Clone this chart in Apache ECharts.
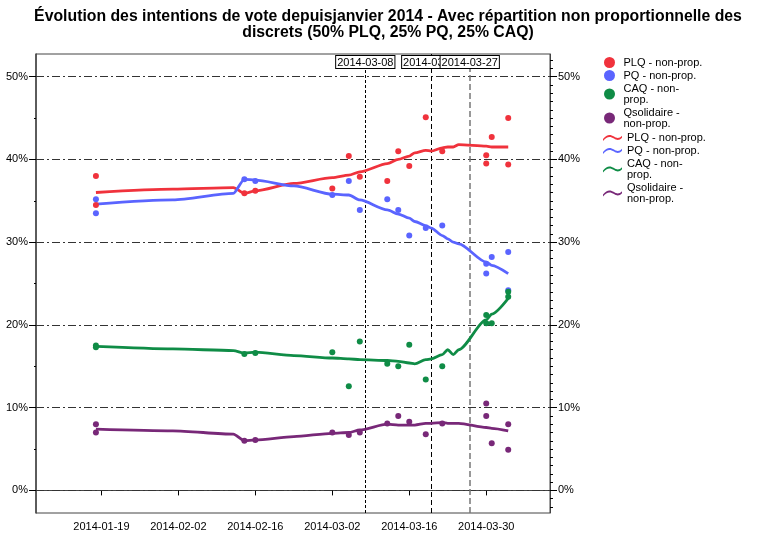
<!DOCTYPE html>
<html>
<head>
<meta charset="utf-8">
<script src="https://cdn.jsdelivr.net/npm/echarts@6/dist/echarts.min.js"></script>
<style>html,body{margin:0;padding:0;background:#fff;}#chart{width:768px;height:540px;}</style>
</head>
<body>
<div id="chart"></div>
<script>
// ---- data ----
const titleText = 'Évolution des intentions de vote depuisjanvier 2014 - Avec répartition non proportionnelle des\ndiscrets (50% PLQ, 25% PQ, 25% CAQ)';
const pollDates = ['2014-01-18','2014-01-18','2014-02-14','2014-02-16','2014-03-02','2014-03-05','2014-03-07','2014-03-12','2014-03-14','2014-03-16','2014-03-19','2014-03-22','2014-03-30','2014-03-30','2014-03-31','2014-04-03','2014-04-03'];
const plqPolls = [38.0,34.5,35.9,36.2,36.5,40.4,37.9,37.4,41.0,39.2,45.1,41.0,40.5,39.5,42.7,45.0,39.4];
const pqPolls  = [35.2,33.5,37.6,37.4,35.7,37.4,33.9,35.2,33.9,30.8,31.7,32.0,27.4,26.2,28.2,28.8,24.2];
const caqPolls = [17.5,17.3,16.5,16.6,16.7,12.6,18.0,15.3,15.0,17.6,13.4,15.0,21.2,20.2,20.2,24.0,23.4];
const qsPolls  = [8.0,7.0,6.0,6.1,7.0,6.7,7.0,8.1,9.0,8.3,6.8,8.1,10.5,9.0,5.7,8.0,4.9];

const fitDates = ['2014-01-18','2014-02-01','2014-02-12','2014-02-14','2014-02-16','2014-02-23','2014-03-02','2014-03-05','2014-03-07','2014-03-12','2014-03-14','2014-03-16','2014-03-17','2014-03-19','2014-03-20','2014-03-22','2014-03-23','2014-03-24','2014-03-25','2014-03-30','2014-03-31','2014-04-03'];
const plqFit = [36.0,36.4,36.6,35.9,36.2,37.1,37.8,38.1,38.5,39.5,40.0,40.4,40.8,41.1,41.0,41.4,41.5,41.5,41.8,41.6,41.5,41.5];
const pqFit  = [34.6,35.1,35.9,37.6,37.5,36.8,35.8,35.7,35.1,33.9,33.4,32.9,32.5,32.0,31.7,30.8,30.4,30.0,29.8,27.6,27.2,26.2];
const caqFit = [17.4,17.1,16.9,16.6,16.7,16.3,16.0,15.9,15.8,15.7,15.6,15.4,15.3,15.8,15.9,16.4,17.0,16.4,17.0,20.6,21.3,23.2];
const qsFit  = [7.4,7.2,6.8,6.0,6.1,6.5,6.9,7.0,7.3,8.0,7.9,7.9,7.9,8.1,8.1,8.2,8.1,8.1,8.1,7.6,7.5,7.2];

const refDates = ['2014-03-08','2014-03-20','2014-03-27'];
const xTickDates = ['2014-01-19','2014-02-02','2014-02-16','2014-03-02','2014-03-16','2014-03-30'];
const yMajorTicks = [0,10,20,30,40,50];
const yLeftMinorTicks = [5,15,25,35,45];
const yRightMinorTicks = [-2,-1,1,2,3,4,5,6,7,8,9,11,12,13,14,15,16,17,18,19,21,22,23,24,25,26,27,28,29,31,32,33,34,35,36,37,38,39,41,42,43,44,45,46,47,48,49,51,52];

const scatterNames = ['PLQ - non-prop.','PQ - non-prop.','CAQ - non-prop.','Qsolidaire - non-prop.'];
const lineNames = ['PLQ - non-prop. (lissage)','PQ - non-prop. (lissage)','CAQ - non-prop. (lissage)','Qsolidaire - non-prop. (lissage)'];
const legendLabels = ['PLQ - non-prop.','PQ - non-prop.','CAQ - non-\nprop.','Qsolidaire -\nnon-prop.'];
const colors = ['#F0323C','#5A64FF','#0F8C46','#782878'];

// ---- helpers ----
const BASE = Date.UTC(2014,0,1);
function toDay(s){const p=s.split('-');return (Date.UTC(+p[0],+p[1]-1,+p[2])-BASE)/86400000;}
function fmtDay(v){const d=new Date(BASE+Math.round(v)*86400000);const m=('0'+(d.getUTCMonth()+1)).slice(-2);const dd=('0'+d.getUTCDate()).slice(-2);return d.getUTCFullYear()+'-'+m+'-'+dd;}
function pairs(dates, vals){return dates.map((d,i)=>[toDay(d), vals[i]]);}

const X_MIN = 6.1, X_MAX = 99.6, Y_MIN = -2.73, Y_MAX = 52.74;
const FONT = 'Liberation Sans';
const labelMap = {};
scatterNames.forEach((n,i)=>labelMap[n]=legendLabels[i]);
lineNames.forEach((n,i)=>labelMap[n]=legendLabels[i]);

const gridDash = {color:'#333', width:1, type:[8,3,2,3]};
const markData = yMajorTicks.map(v=>({yAxis:v, lineStyle:gridDash, label:{show:false}}));
const refStyles = [
  {color:'#000', width:1, type:[3,2]},
  {color:'#000', width:1, type:[5,3]},
  {color:'#777', width:1.5, type:[6,3]}
];
refDates.forEach((d,i)=>{
  markData.push([
    {coord:[toDay(d), Y_MIN], lineStyle:refStyles[i],
     label:{show:true, position:'end', distance:-14, formatter:d, color:'#000', fontSize:11, fontFamily:FONT,
            backgroundColor:'#fff', borderColor:'#000', borderWidth:1, padding:[1,1,0,1]}},
    {coord:[toDay(d), Y_MAX]}
  ]);
});

const pollSets = [plqPolls,pqPolls,caqPolls,qsPolls];
const fitSets = [plqFit,pqFit,caqFit,qsFit];
const series = [];
pollSets.forEach((vals,i)=>{
  const s = {name:scatterNames[i], type:'scatter', symbol:'circle', symbolSize:6,
    itemStyle:{color:colors[i], opacity:1}, data:pairs(pollDates, vals), z:3};
  if(i===0){
    s.markLine = {silent:true, symbol:'none', z:1, animation:false, data:markData};
  }
  series.push(s);
});
fitSets.forEach((vals,i)=>{
  series.push({name:lineNames[i], type:'line', showSymbol:false, smooth:0.25, smoothMonotone:'x',
    lineStyle:{color:colors[i], width:2.8}, itemStyle:{color:colors[i]},
    data:pairs(fitDates, vals), z:2});
});

const wave = 'path://M0,7 C5,1 9,1 14,4 C18,7 21,6 24,3 L24,5.5 C21,8.5 18,9.5 14,6.5 C9,3.5 5,3.5 0,9.5 Z';
const yLabelFmt = v=>v+'%';

const option = {
  animation:false,
  backgroundColor:'#fff',
  title:{text:titleText, left:388, top:9, textAlign:'center', padding:0,
    textStyle:{fontFamily:FONT, fontSize:15.8, fontWeight:'bold', color:'#000', lineHeight:16}},
  legend:[
    {data:scatterNames, orient:'vertical', left:604, top:57, padding:0, itemGap:2, itemWidth:18, itemHeight:11,
     icon:'circle', formatter:n=>labelMap[n], selectedMode:false,
     textStyle:{fontFamily:FONT, fontSize:11, lineHeight:11, color:'#000'}},
    {data:lineNames, orient:'vertical', left:603, top:132.5, padding:0, itemGap:2, itemWidth:19, itemHeight:8,
     icon:wave, formatter:n=>labelMap[n], selectedMode:false,
     textStyle:{fontFamily:FONT, fontSize:11, lineHeight:11, color:'#000'}}
  ],
  grid:{left:36, right:218, top:54, bottom:27, show:true, borderColor:'#444', borderWidth:1, backgroundColor:'transparent'},
  xAxis:{type:'value', min:X_MIN, max:X_MAX,
    axisLine:{show:true, lineStyle:{color:'#444', width:1}},
    axisTick:{show:true, length:5, customValues:xTickDates.map(toDay), lineStyle:{color:'#000'}},
    axisLabel:{customValues:xTickDates.map(toDay), formatter:fmtDay, fontFamily:FONT, fontSize:11, color:'#000', margin:8},
    splitLine:{show:false}},
  yAxis:[
    {type:'value', position:'left', min:Y_MIN, max:Y_MAX,
     axisLine:{show:true, lineStyle:{color:'#444', width:1.5}},
     axisTick:{show:true, length:7, customValues:yMajorTicks, lineStyle:{color:'#000'}},
     axisLabel:{customValues:yMajorTicks, formatter:yLabelFmt, fontFamily:FONT, fontSize:11, color:'#000', margin:8},
     splitLine:{show:false}},
    {type:'value', position:'left', min:Y_MIN, max:Y_MAX,
     axisLine:{show:false},
     axisTick:{show:true, length:2, customValues:yLeftMinorTicks, lineStyle:{color:'#000'}},
     axisLabel:{show:false}, splitLine:{show:false}},
    {type:'value', position:'right', min:Y_MIN, max:Y_MAX,
     axisLine:{show:true, lineStyle:{color:'#444', width:1}},
     axisTick:{show:true, length:7, customValues:yMajorTicks, lineStyle:{color:'#000'}},
     axisLabel:{customValues:yMajorTicks, formatter:yLabelFmt, fontFamily:FONT, fontSize:11, color:'#000', margin:8},
     splitLine:{show:false}},
    {type:'value', position:'right', min:Y_MIN, max:Y_MAX,
     axisLine:{show:false},
     axisTick:{show:true, length:3, customValues:yRightMinorTicks, lineStyle:{color:'#000'}},
     axisLabel:{show:false}, splitLine:{show:false}}
  ],
  series:series
};

const chart = echarts.init(document.getElementById('chart'), null, {renderer:'canvas'});
chart.setOption(option);
</script>
</body>
</html>
